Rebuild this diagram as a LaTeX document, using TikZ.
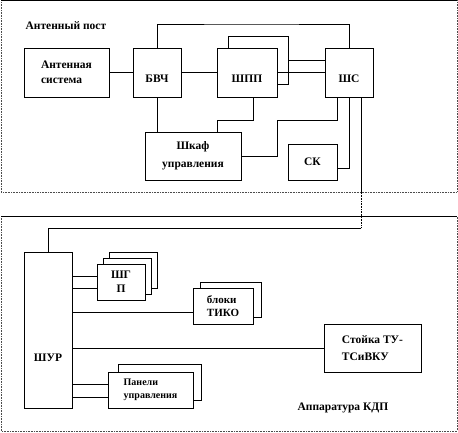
\documentclass[tikz,border=0pt]{standalone}
\usepackage{fontspec}
\setmainfont{Liberation Serif}
\newfontfamily\tnr{Liberation Serif}
\usetikzlibrary{shadows}

\tikzset{
  blok/.style={draw, fill=white, line width=0.6pt, align=center, inner sep=1pt,
    font=\tnr\bfseries\fontsize{11.5}{15}\selectfont,
    drop shadow={shadow xshift=1.3pt, shadow yshift=-1.3pt, shadow scale=1, fill=gray!75, opacity=1}},
  ramka/.style={densely dotted, line width=0.6pt, gray!60!black},
  nadpis/.style={font=\tnr\bfseries\fontsize{11.5}{15}\selectfont},
}

\begin{document}
\begin{tikzpicture}[x=1pt,y=-1pt,line width=0.6pt]
  \useasboundingbox (0,0) rectangle (458,433);
  % antenna post
  \draw[ramka] (1,0.5) rectangle (457,192);
  \draw (1,0.5) -- (457,0.5);
  \node[nadpis,anchor=west] (post) at (22,26) {Антенный пост};

  \node[blok,minimum width=85,minimum height=49,align=left] (ant) at (66.5,72.5) {Антенная\\система};
  \node[blok,minimum width=48,minimum height=49,text height=21pt] (bvch) at (157,72.5) {БВЧ};
  \node[blok,minimum width=60,minimum height=48] (shpp2) at (258,60) {};
  \node[blok,minimum width=60,minimum height=49,text height=21pt] (shpp) at (247,72.5) {ШПП};
  \node[blok,minimum width=48,minimum height=49,text height=21pt] (shs) at (349,72.5) {ШС};
  \node[blok,minimum width=96,minimum height=48,font=\tnr\bfseries\fontsize{11.5}{18}\selectfont] (shkaf) at (193,156) {Шкаф\\управления};
  \node[blok,minimum width=49,minimum height=36] (sk) at (312.5,162) {СК};

  \coordinate (top) at (250,24);
  \coordinate (k1) at (253,120);
  \coordinate (k2) at (217,120);
  \coordinate (k3) at (277,120);
  \coordinate (k4) at (337,120);
  \coordinate (k5) at (349,168);
  \coordinate (k6) at (361,193);
  \coordinate (k7) at (361,228);

  \draw (ant.east) -- (bvch.west);
  \draw (bvch.east) -- (shpp.west);
  \draw (bvch.north) |- (top) -| (shs.north);
  \draw (shpp2.east) -- (shs.west |- shpp2.east);
  \draw (shpp.east) -- (shs.west);
  \draw (bvch.south) -- (bvch.south |- shkaf.north);
  \draw (shpp.south -| k1) -- (k1) -- (k2) -- (k2 |- shkaf.north);
  \draw (shkaf.east) -| (k3) -- (k4) -- (shs.south -| k4);
  \draw (shs.south) -- (k5) -- (sk.east |- k5);
  % link to KDP
  \draw (shs.south -| k6) -- (k6);
  \draw[densely dotted] (k6) -- (k7);

  % KDP
  \draw[ramka] (1,216) rectangle (457,431);
  \draw (1,216) -- (457,216);
  \node[nadpis] (kdp) at (343,408) {Аппаратура КДП};

  \node[blok,minimum width=48,minimum height=156,text height=63pt] (shur) at (48,330) {ШУР};
  \draw (k7) -| (shur.north);

  \node[blok,minimum width=48,minimum height=36] (shgp3) at (133,270) {};
  \node[blok,minimum width=48,minimum height=36] (shgp2) at (127,276) {};
  \node[blok,minimum width=48,minimum height=36,font=\tnr\bfseries\fontsize{11.5}{14}\selectfont] (shgp) at (121,282) {ШГ\\П};
  \node[blok,minimum width=61,minimum height=35] (tiko2) at (230.5,299.5) {};
  \node[blok,minimum width=60,minimum height=36,align=left,font=\tnr\bfseries\fontsize{11}{13}\selectfont] (tiko) at (223,306) {блоки\\ТИКО};
  \node[blok,minimum width=97,minimum height=48,align=left,font=\tnr\bfseries\fontsize{11.5}{17}\selectfont] (stoyka) at (372.5,348) {Стойка ТУ-\\ТСиВКУ};
  \node[blok,minimum width=83,minimum height=36] (panel2) at (159.5,382) {};
  \node[blok,minimum width=85,minimum height=36,align=left,font=\tnr\bfseries\fontsize{10}{13}\selectfont] (panel) at (150.5,390) {Панели\\управления};

  \draw (shur.east |- 0,276) -- (shgp.west |- 0,276);
  \draw (shur.east |- 0,288) -- (shgp.west |- 0,288);
  \draw (shur.east |- 0,312) -- (tiko.west |- 0,312);
  \draw (shur.east |- stoyka.west) -- (stoyka.west);
  \draw (shur.east |- 0,384) -- (panel.west |- 0,384);
  \draw (shur.east |- 0,397) -- (panel.west |- 0,397);
\end{tikzpicture}
\end{document}
